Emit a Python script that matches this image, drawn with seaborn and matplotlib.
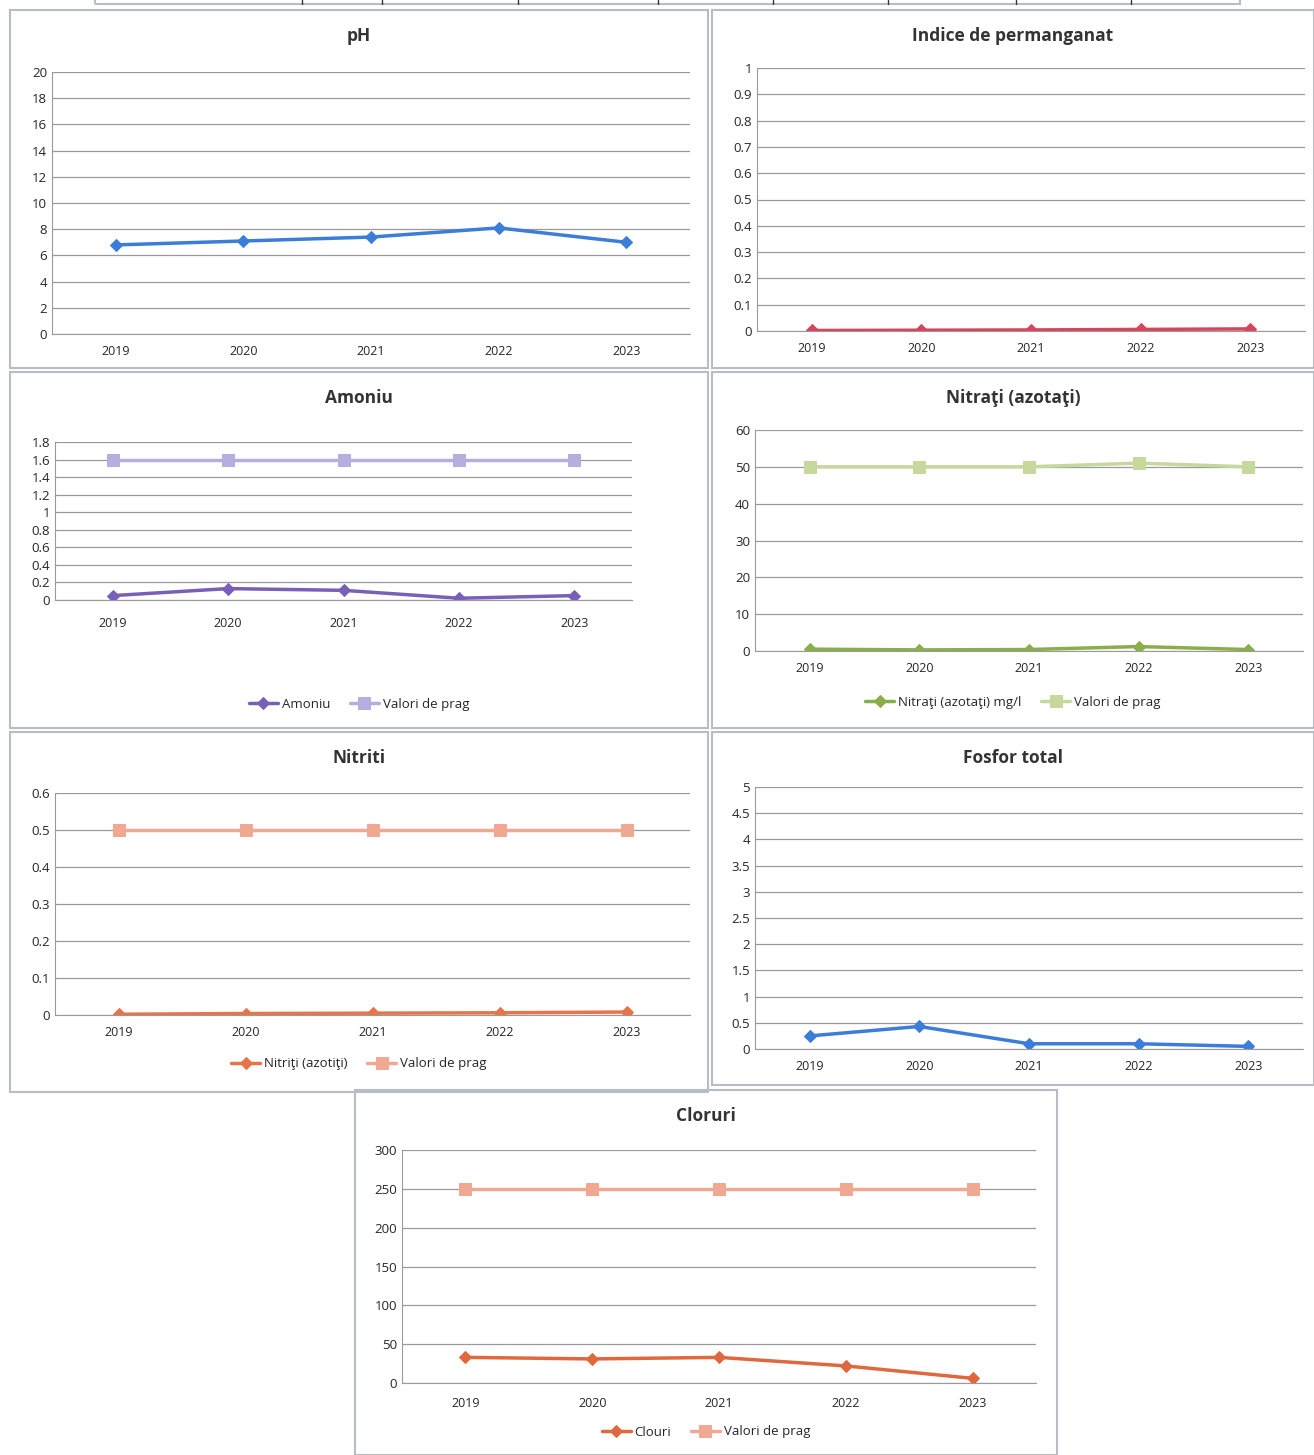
import matplotlib
matplotlib.use("Agg")
import matplotlib.pyplot as plt
import seaborn as sns
import pandas as pd
from matplotlib.patches import Rectangle

sns.set_style("white")
plt.rcParams['font.family'] = ['Open Sans', 'DejaVu Sans']

years = ["2019", "2020", "2021", "2022", "2023"]

ph = [6.8, 7.1, 7.4, 8.1, 7.0]
permanganat = [0.002, 0.003, 0.004, 0.006, 0.008]
amoniu = [0.05, 0.13, 0.11, 0.02, 0.05]
amoniu_prag = [1.6, 1.6, 1.6, 1.6, 1.6]
nitrati = [0.5, 0.3, 0.4, 1.2, 0.4]
nitrati_prag = [50, 50, 50, 51, 50]
nitriti = [0.002, 0.004, 0.005, 0.006, 0.008]
nitriti_prag = [0.5, 0.5, 0.5, 0.5, 0.5]
fosfor = [0.25, 0.43, 0.1, 0.1, 0.05]
cloruri = [33, 31, 33, 22, 6]
cloruri_prag = [250, 250, 250, 250, 250]

W, H = 1314, 1455
fig = plt.figure(figsize=(W / 100, H / 100), dpi=100)
fig.patch.set_facecolor("white")


def box(x0, y0, x1, y1):
    fig.patches.append(Rectangle((x0 / W, 1 - y1 / H), (x1 - x0) / W, (y1 - y0) / H,
                                 transform=fig.transFigure, fill=False,
                                 edgecolor="#b8bcc4", lw=1.5))


def panel(pbox, abox, title, series, ymax, step, fmt, legend_y=None, xpad=8):
    box(*pbox)
    x0, y0, x1, y1 = abox
    ax = fig.add_axes([x0 / W, 1 - y1 / H, (x1 - x0) / W, (y1 - y0) / H])
    for label, vals, color, marker, ms in series:
        df = pd.DataFrame({"year": years, "v": vals})
        sns.lineplot(data=df, x="year", y="v", ax=ax, color=color, marker=marker,
                     markersize=ms, lw=2.5, markeredgecolor=color, label=label)
    ax.set_ylim(0, ymax)
    ax.set_xlim(-0.5, 4.5)
    ticks = [i * step for i in range(int(round(ymax / step)) + 1)]
    ax.set_yticks(ticks)
    ax.set_yticklabels([fmt(t) for t in ticks], fontsize=9.5)
    ax.tick_params(axis="x", labelsize=9, length=0, pad=xpad)
    ax.tick_params(axis="y", length=0)
    ax.grid(axis="y", color="#9a9a9a", lw=0.9)
    for s in ["top", "right"]:
        ax.spines[s].set_visible(False)
    ax.spines["left"].set_color("#9a9a9a")
    ax.spines["bottom"].set_color("#9a9a9a")
    ax.set_xlabel("")
    ax.set_ylabel("")
    ax.set_title("")
    cx = (pbox[0] + pbox[2]) / 2 / W
    fig.text(cx, 1 - (pbox[1] + 26) / H, title, ha="center", va="center",
             fontsize=12.5, fontweight="bold", color="#333333")
    ax.get_legend().remove()
    if legend_y is not None:
        handles, labels = ax.get_legend_handles_labels()
        fig.legend(handles, labels, loc="center",
                   bbox_to_anchor=(cx, 1 - legend_y / H), ncol=len(labels),
                   frameon=False, fontsize=9.5, handlelength=2.2,
                   handletextpad=0.3, columnspacing=1.5)


def num(t):
    return f"{t:.2f}".rstrip("0").rstrip(".")


blue = "#3b7dd8"
panel((10, 10, 708, 368), (52, 72, 690, 334), "pH",
      [("pH", ph, blue, "D", 6)], 20, 2, num)
panel((712, 10, 1314, 368), (757, 68, 1305, 331), "Indice de permanganat",
      [("Indice", permanganat, "#d9435c", "D", 6)], 1, 0.1, num)
panel((10, 372, 708, 728), (55, 442, 632, 600), "Amoniu",
      [("Amoniu", amoniu, "#7a5fb8", "D", 6),
       ("Valori de prag", amoniu_prag, "#b7addf", "s", 8)], 1.8, 0.2, num, 704, 12)
panel((712, 372, 1314, 728), (755, 430, 1303, 651), "Nitraţi (azotaţi)",
      [("Nitraţi (azotaţi) mg/l", nitrati, "#8aae4a", "D", 6),
       ("Valori de prag", nitrati_prag, "#c6d89c", "s", 9)], 60, 10, num, 702)
panel((10, 732, 708, 1092), (55, 793, 690, 1015), "Nitriti",
      [("Nitriţi (azotiţi)", nitriti, "#e8744a", "D", 6),
       ("Valori de prag", nitriti_prag, "#f1a892", "s", 8)], 0.6, 0.1, num, 1064)
panel((712, 732, 1314, 1085), (755, 787, 1303, 1049), "Fosfor total",
      [("Fosfor", fosfor, blue, "D", 6)], 5, 0.5, num)
panel((355, 1090, 1057, 1455), (402, 1150, 1036, 1383), "Cloruri",
      [("Clouri", cloruri, "#e0683e", "D", 6),
       ("Valori de prag", cloruri_prag, "#f1a892", "s", 8)], 300, 50, num, 1432, 10)

# strip of the table above the charts
box(95, -20, 1240, 4)
for xs in [302, 382, 518, 658, 773, 888, 1016, 1131]:
    fig.lines.append(plt.Line2D([xs / W, xs / W], [1, 1 - 4 / H],
                                transform=fig.transFigure, color="#333333", lw=1))

fig.savefig("out.png", dpi=100, facecolor="white")
